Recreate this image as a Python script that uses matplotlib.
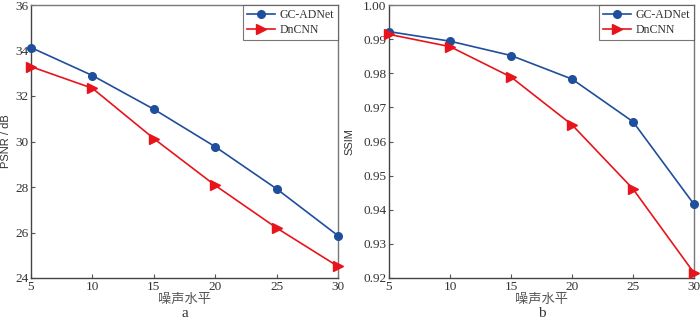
import numpy as np
import matplotlib.pyplot as plt

noise = [5, 10, 15, 20, 25, 30]
psnr_gc = [34.13, 32.90, 31.42, 29.77, 27.92, 25.86]
psnr_dn = [33.29, 32.34, 30.13, 28.07, 26.20, 24.51]
ssim_gc = [0.9922, 0.9894, 0.9852, 0.9783, 0.9658, 0.9416]
ssim_dn = [0.9914, 0.9878, 0.9789, 0.9649, 0.9461, 0.9215]

blue = '#1f4e9c'
red = '#e8141c'
serif = 'Liberation Serif'
cjk = 'Noto Sans CJK SC'

fig = plt.figure(figsize=(7, 3.22), dpi=100)
ax1 = fig.add_axes([31/700, 1-278/322, 307/700, 273/322])
ax2 = fig.add_axes([389/700, 1-278/322, 305/700, 273/322])

panels = [
    (ax1, psnr_gc, psnr_dn, (24, 36), np.arange(24, 37, 2), 'PSNR / dB', 'a', '%d', -0.064),
    (ax2, ssim_gc, ssim_dn, (0.92, 1.0), np.linspace(0.92, 1.0, 9), 'SSIM', 'b', '%.2f', -0.113),
]

for ax, gc, dn, ylim, yt, ylab, tag, fmt, ylx in panels:
    ax.plot(noise, gc, '-o', color=blue, lw=1.2, ms=5.5, label='GC-ADNet', clip_on=False, zorder=3)
    ax.plot(noise, dn, '->', color=red, lw=1.2, ms=6.5, label='DnCNN', clip_on=False, zorder=3)
    ax.set_xlim(5, 30)
    ax.set_ylim(*ylim)
    ax.set_xticks(noise)
    ax.set_yticks(yt)
    ax.set_yticklabels([fmt % v for v in yt], family=serif, fontsize=9.5, color='#333333')
    ax.set_xticklabels([str(v) for v in noise], family=serif, fontsize=9.5, color='#333333')
    ax.tick_params(direction='in', length=3, width=0.8, color='#555555', pad=2)
    for s in ax.spines.values():
        s.set_color('#777777')
        s.set_linewidth(1.0)
    ax.spines['left'].set_color('#444444')
    ax.spines['bottom'].set_color('#444444')
    ax.set_ylabel(ylab, family='Liberation Sans', fontsize=8, color='#333333')
    ax.yaxis.set_label_coords(ylx, 0.5)
    ax.set_xlabel('噪声水平', family=cjk, fontsize=9.5, color='#555555', labelpad=0)
    ax.text(0.5, -0.105, tag, transform=ax.transAxes, ha='center', va='top',
            family=serif, fontsize=11, color='#333333')
    leg = ax.legend(loc='upper right', prop={'family': serif, 'size': 8.5},
                    frameon=True, fancybox=False, borderaxespad=0.0,
                    handlelength=2.3, handletextpad=0.4, borderpad=0.35,
                    labelspacing=0.25)
    leg.get_frame().set_edgecolor('#555555')
    leg.get_frame().set_linewidth(0.8)
    for t in leg.get_texts():
        t.set_color('#333333')

fig.savefig('out.png', dpi=100)
